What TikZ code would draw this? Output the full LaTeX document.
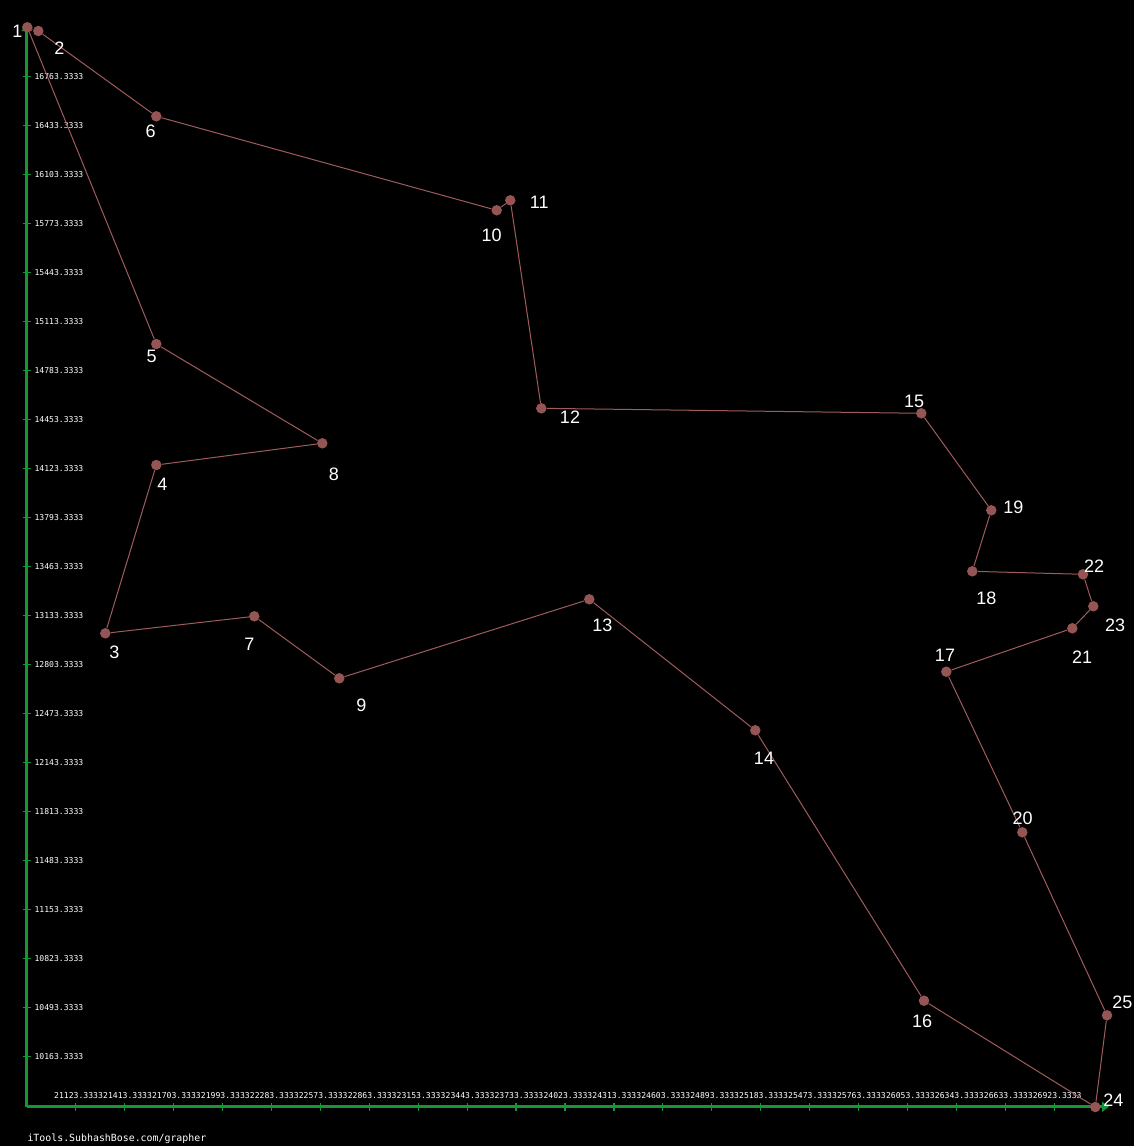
\documentclass[tikz,border=0pt]{standalone}
\usepackage{fontspec}
\usetikzlibrary{arrows.meta}
\newfontfamily\lblfont{Liberation Sans}
\newfontfamily\axfont{DejaVu Sans Mono}
\definecolor{axgreen}{RGB}{20,150,55}
\definecolor{dotc}{RGB}{150,85,85}
\definecolor{edgec}{RGB}{160,92,92}
\tikzset{
  pt/.style={circle,fill=dotc,draw=none,minimum size=10.5pt,inner sep=0pt},
  edge/.style={draw=edgec,line width=1pt},
  lbl/.style={text=white,font=\lblfont\fontsize{18pt}{18pt}\selectfont,inner sep=0pt},
  axis/.style={draw=axgreen,line width=2.6pt},
  tick/.style={draw=axgreen,line width=1.2pt},
  ticklbl/.style={text=white,font=\axfont\fontsize{8.1pt}{8.1pt}\selectfont,inner sep=0pt},
}
\begin{document}
\begin{tikzpicture}[x=1pt,y=-1pt]
\fill[black] (0,0) rectangle (1134,1146);
\useasboundingbox (0,0) rectangle (1134,1146);
% axes
\coordinate (O) at (26.7,1106.7);
\coordinate (Xend) at (1109,1106.7);
\coordinate (Yend) at (26.7,24);
\draw[axis,-{Triangle[length=7pt,width=10pt]}] (O) -- (Xend);
\draw[axis,-{Triangle[length=7pt,width=10pt]}] (O) -- (Yend);
% x ticks and labels
\foreach \v [count=\k from 0] in {21123,21413,21703,21993,22283,22573,22863,23153,23443,23733,24023,24313,24603,24893,25183,25473,25763,26053,26343,26633,26923}{
  \pgfmathsetmacro{\xx}{75.7+48.93*\k}
  \draw[tick] (\xx,1103) -- (\xx,1110.5);
  \node[ticklbl,anchor=west] (xl\k) at (\xx-21.7,1096) {\v.3333};
}
% y ticks and labels
\foreach \v [count=\k from 0] in {16763,16433,16103,15773,15443,15113,14783,14453,14123,13793,13463,13133,12803,12473,12143,11813,11483,11153,10823,10493,10163}{
  \pgfmathsetmacro{\yy}{76.7+49*\k}
  \draw[tick] (23,\yy) -- (30.5,\yy);
  \node[ticklbl,anchor=west] (yl\k) at (34.3,\yy) {\v.3333};
}
\node[text=white,font=\axfont\fontsize{9.9pt}{9.9pt}\selectfont,inner sep=0pt,anchor=west] (credit) at (27.3,1138.3) {iTools.SubhashBose.com/grapher};
% points
\node[pt] (p1) at (27.3,27.3) {};
\node[pt] (p2) at (38.3,31) {};
\node[pt] (p3) at (105.3,633.3) {};
\node[pt] (p4) at (156.3,465) {};
\node[pt] (p5) at (156.3,344) {};
\node[pt] (p6) at (156.3,116.3) {};
\node[pt] (p7) at (254.3,616.3) {};
\node[pt] (p8) at (322.3,443.3) {};
\node[pt] (p9) at (339.3,678.3) {};
\node[pt] (p10) at (496.7,210.3) {};
\node[pt] (p11) at (510.3,200.3) {};
\node[pt] (p12) at (541.3,408.3) {};
\node[pt] (p13) at (589.3,599.3) {};
\node[pt] (p14) at (755.3,730.3) {};
\node[pt] (p15) at (921.3,413.3) {};
\node[pt] (p16) at (924,1000.7) {};
\node[pt] (p17) at (946.3,671.7) {};
\node[pt] (p18) at (972.3,571.3) {};
\node[pt] (p19) at (991.3,510.3) {};
\node[pt] (p20) at (1022.3,832.3) {};
\node[pt] (p21) at (1072.3,628.3) {};
\node[pt] (p22) at (1083,574.3) {};
\node[pt] (p23) at (1093.3,606.3) {};
\node[pt] (p24) at (1095.3,1107) {};
\node[pt] (p25) at (1107,1015.3) {};
% tour
\draw[edge] (p1) -- (p2) -- (p6) -- (p10) -- (p11) -- (p12) -- (p15) -- (p19) -- (p18) -- (p22) -- (p23) -- (p21) -- (p17) -- (p20) -- (p25) -- (p24) -- (p16) -- (p14) -- (p13) -- (p9) -- (p7) -- (p3) -- (p4) -- (p8) -- (p5) -- (p1);
% labels
\node[lbl] (l1) at (17.3,31.7) {1};
\node[lbl] (l2) at (59.3,48.3) {2};
\node[lbl] (l3) at (114.3,652.3) {3};
\node[lbl] (l4) at (162.3,484.3) {4};
\node[lbl] (l5) at (151.7,356.7) {5};
\node[lbl] (l6) at (150.7,131) {6};
\node[lbl] (l7) at (249.3,644) {7};
\node[lbl] (l8) at (334,474) {8};
\node[lbl] (l9) at (361.3,705.7) {9};
\node[lbl] (l10) at (491.7,235) {10};
\node[lbl] (l11) at (539.3,202.7) {11};
\node[lbl] (l12) at (570,417.7) {12};
\node[lbl] (l13) at (602.3,625.7) {13};
\node[lbl] (l14) at (764,758.7) {14};
\node[lbl] (l15) at (914,401.7) {15};
\node[lbl] (l16) at (922,1021.7) {16};
\node[lbl] (l17) at (945,655.7) {17};
\node[lbl] (l18) at (986.3,598.3) {18};
\node[lbl] (l19) at (1013.3,507.3) {19};
\node[lbl] (l20) at (1022.7,818.3) {20};
\node[lbl] (l21) at (1082,657.3) {21};
\node[lbl] (l22) at (1094,566.7) {22};
\node[lbl] (l23) at (1115,625.7) {23};
\node[lbl] (l24) at (1113.3,1100.3) {24};
\node[lbl] (l25) at (1122.3,1002.7) {25};
\end{tikzpicture}
\end{document}
